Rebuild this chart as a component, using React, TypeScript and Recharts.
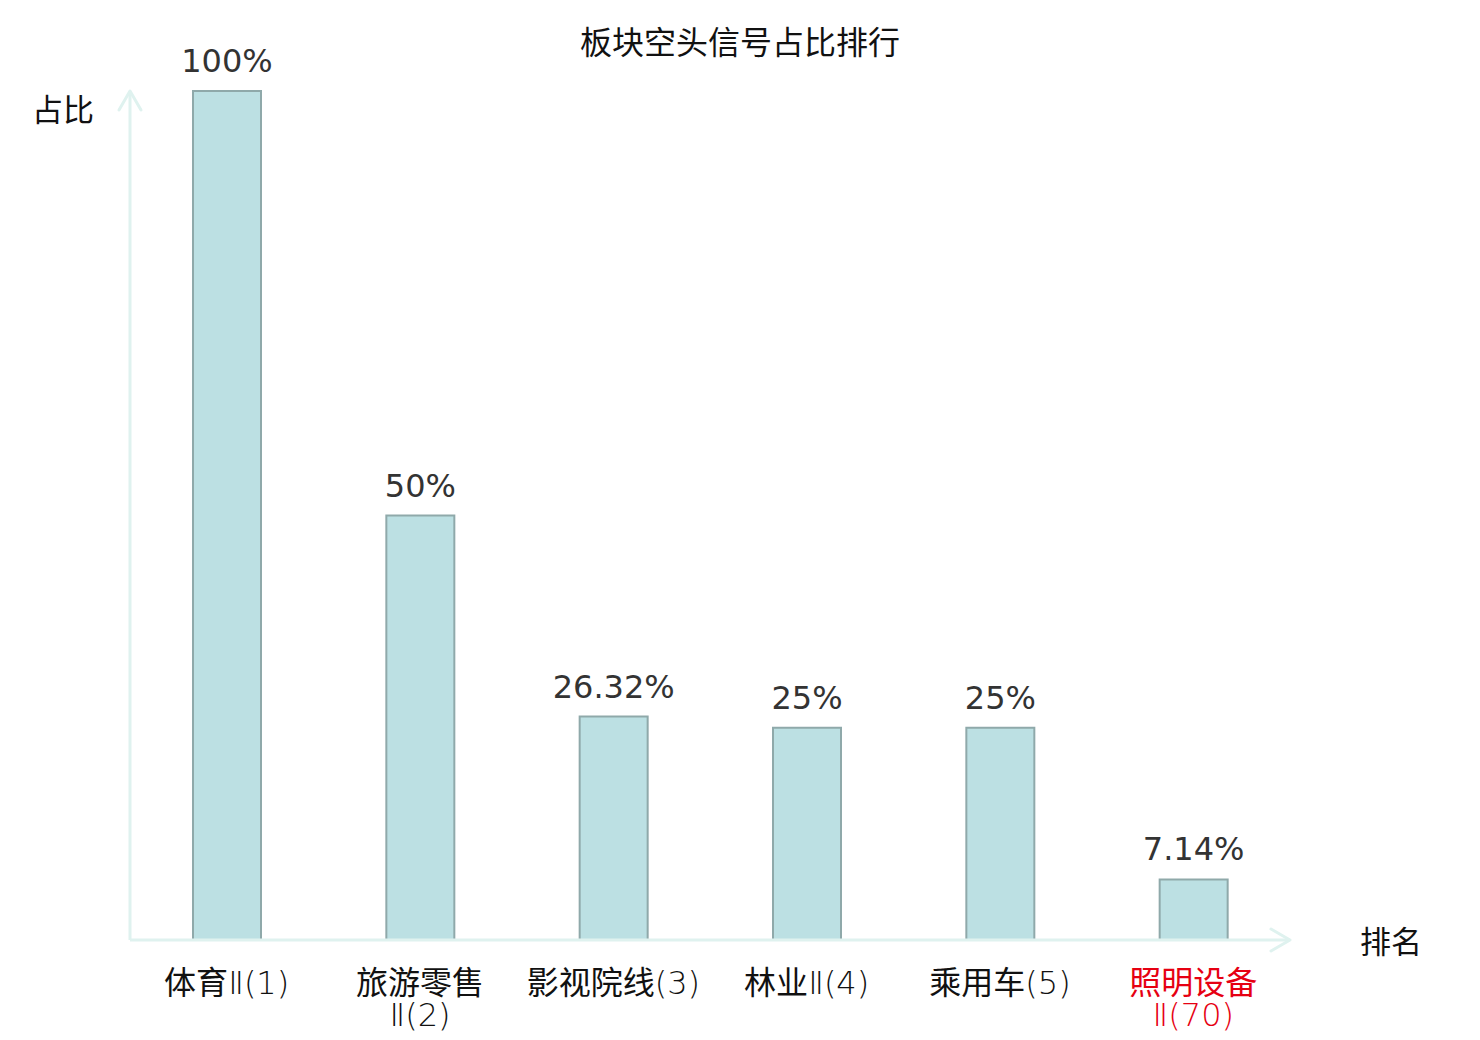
import React from 'react';
import { BarChart, Bar, XAxis, YAxis, LabelList } from 'recharts';

const categories = ['体育Ⅱ(1)', '旅游零售Ⅱ(2)', '影视院线(3)', '林业Ⅱ(4)', '乘用车(5)', '照明设备Ⅱ(70)'];
const tickLines = [['体育Ⅱ(1)'], ['旅游零售', 'Ⅱ(2)'], ['影视院线(3)'], ['林业Ⅱ(4)'], ['乘用车(5)'], ['照明设备', 'Ⅱ(70)']];
const values = [100, 50, 26.32, 25, 25, 7.14];
const valueLabels = ['100%', '50%', '26.32%', '25%', '25%', '7.14%'];
const highlighted = ['照明设备Ⅱ(70)'];

const data = categories.map((name, i) => ({ name, value: values[i], label: valueLabels[i] }));

const CJK = '"Noto Sans CJK SC", "Noto Sans", sans-serif';
const LATIN_LIGHT = '"DejaVu Sans", "Noto Sans CJK SC", sans-serif';
const AXIS_COLOR = '#dff2ef';

const splitParts = (s: string) => {
  const m = s.match(/^([\u4e00-\u9fff]*)(.*)$/);
  return m ? [m[1], m[2]] : [s, ''];
};

const Tick = (props: any) => {
  const { x, y, payload } = props;
  const name = payload.value as string;
  const idx = categories.indexOf(name);
  const lines = idx >= 0 ? tickLines[idx] : [name];
  const color = highlighted.includes(name) ? '#e60012' : '#111111';
  return (
    <text x={x} y={y} textAnchor="middle" fill={color} fontFamily={CJK} fontSize={32}>
      {lines.map((l, i) => {
        const [cjk, rest] = splitParts(l);
        return (
          <tspan key={i} x={x} dy={i === 0 ? 46 : 32}>
            {cjk ? <tspan>{cjk}</tspan> : null}
            {rest ? <tspan fontFamily={LATIN_LIGHT} fontWeight={200}>{rest}</tspan> : null}
          </tspan>
        );
      })}
    </text>
  );
};

export default function App() {
  return (
    <div style={{ width: 1480, height: 1040, background: '#fff' }}>
      <style>{'body{margin:0}'}</style>
      <BarChart width={1480} height={1040} data={data} margin={{ top: 91, right: 190, bottom: 0, left: 129 }}>
        <defs>
          <marker id="axArrow" markerUnits="userSpaceOnUse" markerWidth={40} markerHeight={40} viewBox="-30 -20 40 40" refX={0} refY={0} orient="auto-start-reverse" overflow="visible">
            <path d="M-19,-11 L0,0 L-19,11" fill="none" stroke={AXIS_COLOR} strokeWidth={3} strokeLinecap="round" strokeLinejoin="round" />
          </marker>
        </defs>
        <text x={740} y={54} textAnchor="middle" fontFamily={CJK} fontSize={32} fill="#111">板块空头信号占比排行</text>
        <text x={63} y={121} textAnchor="middle" fontFamily={CJK} fontSize={31} fill="#111">占比</text>
        <text x={1391} y={953} textAnchor="middle" fontFamily={CJK} fontSize={31} fill="#111">排名</text>
        <XAxis
          dataKey="name"
          height={100}
          interval={0}
          tickLine={false}
          tick={<Tick />}
          axisLine={{ stroke: AXIS_COLOR, strokeWidth: 3, markerEnd: 'url(#axArrow)' } as any}
        />
        <YAxis
          width={1}
          domain={[0, 100]}
          tick={false}
          tickLine={false}
          axisLine={{ stroke: AXIS_COLOR, strokeWidth: 3, markerStart: 'url(#axArrow)' } as any}
        />
        <Bar dataKey="value" barSize={68} fill="#bce0e3" stroke="#8fa9aa" strokeWidth={2} isAnimationActive={false}>
          <LabelList dataKey="label" position="top" offset={19} fill="#333333" fontSize={32} fontFamily='"DejaVu Sans", sans-serif' />
        </Bar>
      </BarChart>
    </div>
  );
}
